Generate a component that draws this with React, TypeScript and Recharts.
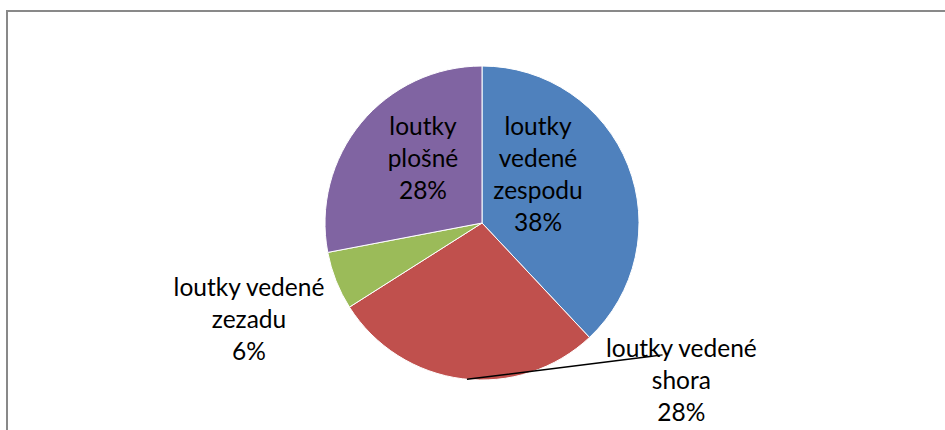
import { PieChart, Pie, Cell } from 'recharts'

// loutky podle způsobu vedení
const categories = ['loutky vedené zespodu', 'loutky vedené shora', 'loutky vedené zezadu', 'loutky plošné']
const values = [38, 28, 6, 28]
const colors = ['#4F81BD', '#C0504D', '#9BBB59', '#8064A2']
// how each label is wrapped in the picture
const labelLines = [
  ['loutky', 'vedené', 'zespodu'],
  ['loutky vedené', 'shora'],
  ['loutky vedené', 'zezadu'],
  ['loutky', 'plošné'],
]

const data = categories.map((name, i) => ({ name, value: values[i] }))

// label anchor relative to the pie centre, in units of the radius (first baseline)
const labelOffset = [
  { dx: 0.357, dy: -0.559 },
  { dx: 1.27, dy: 0.853 },
  { dx: -1.484, dy: 0.467 },
  { dx: -0.376, dy: -0.559 },
]

const FONT = 'Lato, "Liberation Sans", sans-serif'
const LINE = 32

function renderLabel(props: any) {
  const { cx, cy, outerRadius, index, percent } = props
  const off = labelOffset[index]
  const x = cx + off.dx * outerRadius
  const y = cy + off.dy * outerRadius
  const lines = [...labelLines[index], `${Math.round(percent * 100)}%`]
  return (
    <text
      key={`label-${index}`}
      x={x}
      y={y}
      textAnchor="middle"
      fill="#000"
      style={{ fontFamily: FONT, fontSize: 24.5 }}
    >
      {lines.map((t, i) => (
        <tspan key={i} x={x} y={y + i * LINE}>
          {t}
        </tspan>
      ))}
    </text>
  )
}

function renderLabelLine(props: any) {
  const { cx, cy, outerRadius, index } = props
  if (index !== 1) return <g key={`line-${index}`} />
  // leader from the bottom of the red slice up to its label
  const a = (-95.5 * Math.PI) / 180
  const x0 = cx + outerRadius * Math.cos(a)
  const y0 = cy - outerRadius * Math.sin(a)
  const x2 = cx + 1.15 * outerRadius
  const y2 = cy + 0.84 * outerRadius
  const x1 = x2 - 0.08 * outerRadius
  const y1 = y2 + 0.01 * outerRadius
  return (
    <polyline
      key={`line-${index}`}
      points={`${x0},${y0} ${x1},${y1} ${x2},${y2}`}
      fill="none"
      stroke="#000"
      strokeWidth={1.5}
    />
  )
}

export default function App() {
  return (
    <div style={{ position: 'absolute', left: 0, top: 0, width: 945, height: 430, overflow: 'hidden', background: '#fff' }}>
      <div
        style={{
          position: 'absolute',
          left: 6,
          top: 10,
          width: 1200,
          height: 800,
          border: '2px solid #898989',
          boxSizing: 'border-box',
        }}
      />
      <div style={{ position: 'absolute', left: 0, top: 0 }}>
        <PieChart width={945} height={430} margin={{ top: 0, right: 0, bottom: 0, left: 0 }}>
          <Pie
            data={data}
            dataKey="value"
            nameKey="name"
            cx={482}
            cy={223}
            outerRadius={157}
            startAngle={90}
            endAngle={-270}
            stroke="#fff"
            strokeWidth={1}
            label={renderLabel}
            labelLine={renderLabelLine}
            isAnimationActive={false}
          >
            {data.map((entry, index) => (
              <Cell key={`cell-${index}`} fill={colors[index]} />
            ))}
          </Pie>
        </PieChart>
      </div>
    </div>
  )
}
